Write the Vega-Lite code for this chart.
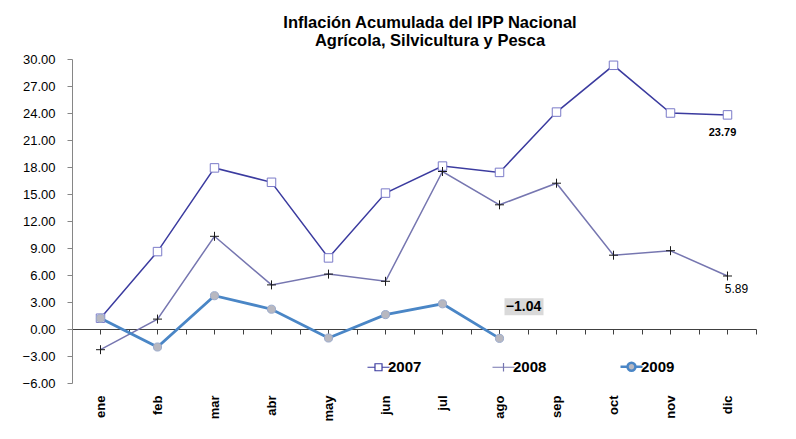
{
  "$schema": "https://vega.github.io/schema/vega-lite/v6.json",
  "width": 684,
  "height": 324,
  "autosize": {"type": "none"},
  "padding": {"left": 72, "top": 59, "right": 40, "bottom": 56},
  "background": "white",
  "title": {
    "text": ["Inflación Acumulada del IPP Nacional", "Agrícola, Silvicultura y Pesca"],
    "font": "Liberation Sans",
    "fontSize": 16.5,
    "fontWeight": "bold",
    "color": "#000000",
    "anchor": "middle",
    "dx": 16,
    "offset": 4,
    "lineHeight": 18
  },
  "config": {
    "view": {"stroke": null},
    "axis": {"grid": false, "labelFont": "Liberation Sans", "labelColor": "#000000"}
  },
  "data": {
    "values": [
      {"mes": "ene", "serie": "2007", "valor": 1.2},
      {"mes": "feb", "serie": "2007", "valor": 8.6},
      {"mes": "mar", "serie": "2007", "valor": 17.9},
      {"mes": "abr", "serie": "2007", "valor": 16.3},
      {"mes": "may", "serie": "2007", "valor": 7.9},
      {"mes": "jun", "serie": "2007", "valor": 15.1},
      {"mes": "jul", "serie": "2007", "valor": 18.1},
      {"mes": "ago", "serie": "2007", "valor": 17.4},
      {"mes": "sep", "serie": "2007", "valor": 24.1},
      {"mes": "oct", "serie": "2007", "valor": 29.3},
      {"mes": "nov", "serie": "2007", "valor": 24.0},
      {"mes": "dic", "serie": "2007", "valor": 23.79},
      {"mes": "ene", "serie": "2008", "valor": -2.3},
      {"mes": "feb", "serie": "2008", "valor": 1.1},
      {"mes": "mar", "serie": "2008", "valor": 10.3},
      {"mes": "abr", "serie": "2008", "valor": 4.9},
      {"mes": "may", "serie": "2008", "valor": 6.1},
      {"mes": "jun", "serie": "2008", "valor": 5.3},
      {"mes": "jul", "serie": "2008", "valor": 17.5},
      {"mes": "ago", "serie": "2008", "valor": 13.8},
      {"mes": "sep", "serie": "2008", "valor": 16.2},
      {"mes": "oct", "serie": "2008", "valor": 8.2},
      {"mes": "nov", "serie": "2008", "valor": 8.7},
      {"mes": "dic", "serie": "2008", "valor": 5.89},
      {"mes": "ene", "serie": "2009", "valor": 1.2},
      {"mes": "feb", "serie": "2009", "valor": -2.0},
      {"mes": "mar", "serie": "2009", "valor": 3.7},
      {"mes": "abr", "serie": "2009", "valor": 2.2},
      {"mes": "may", "serie": "2009", "valor": -1.0},
      {"mes": "jun", "serie": "2009", "valor": 1.6},
      {"mes": "jul", "serie": "2009", "valor": 2.8},
      {"mes": "ago", "serie": "2009", "valor": -1.04}
    ]
  },
  "encoding": {
    "x": {
      "field": "mes",
      "type": "nominal",
      "scale": {"type": "band", "paddingInner": 0, "paddingOuter": 0, "domain": ["ene","feb","mar","abr","may","jun","jul","ago","sep","oct","nov","dic"]},
      "axis": null
    },
    "y": {
      "field": "valor",
      "type": "quantitative",
      "scale": {"domain": [-6, 30], "nice": false, "zero": false},
      "axis": {
        "orient": "left",
        "title": null,
        "values": [-6, -3, 0, 3, 6, 9, 12, 15, 18, 21, 24, 27, 30],
        "format": ".2f",
        "domainColor": "#868686",
        "tickColor": "#868686",
        "tickSize": 5,
        "labelPadding": 12,
        "labelFontSize": 13
      }
    }
  },
  "resolve": {"axis": {"x": "independent"}},
  "layer": [
    {
      "mark": {"type": "line"},
      "encoding": {
        "x": {
          "field": "mes",
          "type": "nominal",
          "axis": {
            "orient": "bottom",
            "offset": -54,
            "title": null,
            "domainColor": "#404040",
            "tickColor": "#404040",
            "tickSize": 5,
            "labelAngle": -90,
            "labelPadding": 61,
            "labelFontSize": 13,
            "labelFontWeight": "bold"
          }
        },
        "color": {
          "field": "serie",
          "type": "nominal",
          "scale": {"domain": ["2007", "2008", "2009"], "range": ["#3b3b9f", "#7676b0", "#4a86c6"]},
          "legend": {
            "orient": "none",
            "legendX": 299,
            "legendY": 300,
            "direction": "horizontal",
            "columns": 3,
            "title": null,
            "symbolSize": 484,
            "labelFont": "Liberation Sans",
            "labelFontSize": 15,
            "labelFontWeight": "bold",
            "labelColor": "#000000",
            "labelOffset": 2,
            "columnPadding": 68,
            "encode": {
              "symbols": {
                "update": {
                  "shape": {"signal": "datum.value == '2007' ? 'M-1,0H-0.32M0.32,0H1M-0.32,-0.32H0.32V0.32H-0.32Z' : datum.value == '2008' ? 'M-1,0H1M0,-0.38V0.38' : 'M-1,0H-0.36M0.36,0H1M0.36,0A0.36,0.36 0 1,1 -0.36,0A0.36,0.36 0 1,1 0.36,0Z'"},
                  "fill": {"signal": "datum.value == '2007' ? '#ffffff' : datum.value == '2009' ? '#b8b8c0' : 'transparent'"},
                  "strokeWidth": {"signal": "datum.value == '2009' ? 2.5 : 1.2"}
                }
              }
            }
          }
        },
        "strokeWidth": {
          "condition": {"test": "datum.serie == '2009'", "value": 2.8},
          "value": 1.5
        }
      }
    },
    {
      "transform": [{"filter": "datum.serie == '2007'"}],
      "mark": {"type": "point", "shape": "square", "size": 72, "filled": true, "fill": "#ffffff", "stroke": "#7a7ac8", "strokeWidth": 1, "opacity": 1},
      "encoding": {
        "x": {
          "field": "mes",
          "type": "nominal",
          "axis": {
            "orient": "bottom",
            "offset": -54,
            "title": null,
            "domain": false,
            "labels": false,
            "tickBand": "extent",
            "tickColor": "#404040",
            "tickSize": 5
          }
        }
      }
    },
    {
      "transform": [{"filter": "datum.serie == '2008'"}],
      "mark": {"type": "point", "shape": "M-1,0H1M0,-1V1", "size": 81, "filled": false, "fill": "transparent", "stroke": "#1a1a1a", "strokeWidth": 1, "opacity": 1}
    },
    {
      "transform": [{"filter": "datum.serie == '2009'"}],
      "mark": {"type": "point", "shape": "circle", "size": 66, "filled": true, "fill": "#b8b8c0", "stroke": "#9aaacc", "strokeWidth": 1, "opacity": 1}
    },
    {
      "transform": [{"filter": "datum.serie == '2009' && datum.mes == 'ago'"}],
      "mark": {"type": "point", "filled": true, "shape": "M0.1,-0.8H0.88V-0.46H0.1Z", "size": 10000, "color": "#d9d9d9", "opacity": 1, "strokeWidth": 0}
    },
    {
      "transform": [{"filter": "datum.serie == '2009' && datum.mes == 'ago'"}],
      "mark": {"type": "text", "dx": 24, "dy": -31, "font": "Liberation Sans", "fontSize": 14, "fontWeight": "bold", "color": "#000000"},
      "encoding": {"text": {"field": "valor", "type": "quantitative", "format": ".2f"}}
    },
    {
      "transform": [{"filter": "datum.serie == '2007' && datum.mes == 'dic'"}],
      "mark": {"type": "text", "dx": -5, "dy": 18, "font": "Liberation Sans", "fontSize": 11, "fontWeight": "bold", "color": "#000000"},
      "encoding": {"text": {"field": "valor", "type": "quantitative", "format": ".2f"}}
    },
    {
      "transform": [{"filter": "datum.serie == '2008' && datum.mes == 'dic'"}],
      "mark": {"type": "text", "dx": 9, "dy": 13, "font": "Liberation Sans", "fontSize": 12, "color": "#000000"},
      "encoding": {"text": {"field": "valor", "type": "quantitative", "format": ".2f"}}
    }
  ]
}
